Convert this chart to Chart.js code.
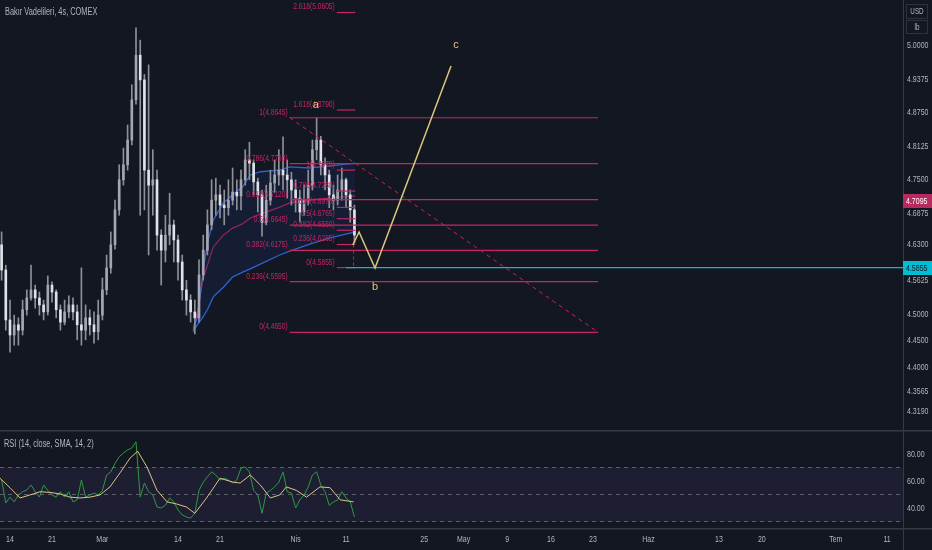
<!DOCTYPE html>
<html lang="tr">
<head>
<meta charset="utf-8">
<title>Bakır Vadelileri, 4s, COMEX</title>
<script src="https://cdn.jsdelivr.net/npm/chart.js@4.4.1/dist/chart.umd.min.js"></script>
<style>
  html, body { margin: 0; padding: 0; background: #131722; overflow: hidden; }
  .pane { position: absolute; left: 0; display: block; }
</style>
</head>
<body>
<canvas id="priceChart" class="pane" width="932" height="430" style="top:0"></canvas>
<canvas id="rsiChart" class="pane" width="932" height="120" style="top:430px"></canvas>
<script>
// x = işlem günü (0 = 14 Şubat Pazartesi), yarım günlük mumlar
const barDays = [-1,-0.5,0,0.5,1,1.5,2,2.5,3,3.5,4,4.5,5,5.5,6,6.5,7,7.5,8,8.5,
  9,9.5,10,10.5,11,11.5,12,12.5,13,13.5,14,14.5,15,15.5,16,16.5,17,17.5,18,18.5,
  19,19.5,20,20.5,21,21.5,22,22.5,23,23.5,24,24.5,25,25.5,26,26.5,27,27.5,28,28.5,
  29,29.5,30,30.5,31,31.5,32,32.5,33,33.5,34,34.5,35,35.5,36,36.5,37,37.5,38,38.5,
  39,39.5,40,40.5,41];

const opens = [4.628,4.581,4.488,4.460,4.479,4.469,4.507,4.529,4.544,4.529,
  4.516,4.503,4.553,4.540,4.507,4.484,4.503,4.516,4.503,4.479,
  4.469,4.492,4.479,4.466,4.497,4.544,4.585,4.628,4.693,4.749,
  4.777,4.823,4.898,4.981,4.935,4.767,4.739,4.749,4.646,4.618,
  4.646,4.665,4.637,4.596,4.544,4.525,4.503,4.492,4.572,4.618,
  4.665,4.711,4.721,4.702,4.697,4.711,4.726,4.719,4.749,4.786,
  4.780,4.745,4.721,4.670,4.711,4.743,4.758,4.767,4.758,4.749,
  4.730,4.715,4.689,4.711,4.739,4.805,4.823,4.777,4.758,4.721,
  4.711,4.730,4.749,4.721,4.693];

const highs = [4.652,4.590,4.525,4.497,4.492,4.525,4.544,4.590,4.553,4.540,
  4.525,4.570,4.559,4.544,4.516,4.525,4.533,4.529,4.516,4.585,
  4.516,4.507,4.503,4.525,4.566,4.609,4.652,4.711,4.777,4.808,
  4.851,4.926,5.032,5.009,4.945,4.963,4.805,4.767,4.656,4.683,
  4.724,4.674,4.646,4.609,4.562,4.535,4.525,4.600,4.646,4.693,
  4.749,4.752,4.739,4.730,4.749,4.771,4.749,4.767,4.805,4.819,
  4.786,4.752,4.730,4.739,4.767,4.786,4.805,4.829,4.786,4.763,
  4.749,4.730,4.739,4.767,4.823,4.8645,4.830,4.790,4.767,4.739,
  4.758,4.771,4.752,4.730,4.702];

const lows = [4.562,4.469,4.428,4.441,4.441,4.460,4.497,4.525,4.510,4.497,
  4.488,4.497,4.521,4.492,4.469,4.479,4.492,4.488,4.451,4.441,
  4.451,4.460,4.445,4.451,4.488,4.535,4.575,4.620,4.683,4.739,
  4.767,4.814,4.890,4.683,4.693,4.609,4.683,4.618,4.553,4.596,
  4.628,4.596,4.562,4.525,4.497,4.484,4.462,4.484,4.562,4.609,
  4.656,4.683,4.678,4.665,4.683,4.702,4.693,4.693,4.739,4.749,
  4.721,4.689,4.644,4.665,4.702,4.726,4.739,4.730,4.715,4.702,
  4.689,4.670,4.683,4.702,4.730,4.786,4.758,4.730,4.697,4.693,
  4.702,4.711,4.697,4.670,4.631];

const closes = [4.581,4.488,4.460,4.479,4.469,4.507,4.529,4.544,4.529,4.516,
  4.503,4.553,4.540,4.507,4.484,4.503,4.516,4.503,4.479,4.469,
  4.492,4.479,4.466,4.497,4.544,4.585,4.628,4.693,4.749,4.777,
  4.823,4.898,4.981,4.935,4.767,4.739,4.749,4.646,4.618,4.646,
  4.665,4.637,4.596,4.544,4.525,4.503,4.492,4.572,4.618,4.665,
  4.711,4.721,4.702,4.697,4.711,4.726,4.719,4.749,4.786,4.780,
  4.745,4.721,4.670,4.711,4.743,4.758,4.767,4.758,4.749,4.730,
  4.715,4.689,4.711,4.739,4.805,4.823,4.777,4.758,4.721,4.711,
  4.730,4.749,4.721,4.693,4.646];

// RSI (14) mumlarla aynı x değerlerinde
const rsiValues = [60.7,43.7,48,44.5,49.6,52,53.3,57,52,48,
  57,53,49.6,48,52,48,52,44.5,46,60.7,
  48,49.6,51,49.6,53,64.4,66.7,73,78,80.7,
  83,84.4,89,48,58.5,52,49.6,40.7,40,42,
  47.4,44.5,38.5,34.8,33.3,32.5,36,53,59,63,
  66.7,64.4,60.7,62,60.7,58.5,60.7,69.6,70.4,66.7,
  53,49.6,36,51,53,55.6,59,66.7,52,51,
  40,46,49.6,55.6,64.4,66.7,57,52,42,44.5,
  46,52,47.4,44.5,33.3];

// RSI'nin SMA(14) çizgisi
const smaDays = [-1.19,0,1.19,2.38,3.57,4.76,5.95,7.14,8.33,9.52,10.71,11.9,13.1,14.3,15.2,16.3,
  17.5,18.7,19.8,21.0,22.0,23.4,25.0,26.6,27.4,28.6,29.8,31.0,32.1,32.9,34.1,35.3,36.9,38.1,39.3,40.9];
const smaValues = [62,55,47.4,49.6,52,51.5,50.4,48,47.4,48,49.6,55.6,66,77,82,70.4,
  53,44.5,43,40.7,36,47.4,62,59,58.5,64.4,57,47.4,49.6,55.6,53,48,55.6,55,46,44.5];

// 16 Mart dibinden başlayan bant (üst, orta, alt)
const vwDays = [21.8,22.3,23.0,23.5,24.2,25.4,26.5,27.7,28.6,29.8,32.1,33.3,35.7,38.1,41.1];
const vwUpper = [4.469,4.492,4.581,4.631,4.674,4.706,4.721,4.736,4.758,4.764,4.767,4.773,4.771,4.775,4.780];
const vwMiddle = [4.473,4.501,4.566,4.590,4.624,4.646,4.659,4.667,4.678,4.685,4.698,4.706,4.711,4.715,4.719];
const vwLower = [4.466,4.479,4.494,4.507,4.531,4.549,4.568,4.577,4.583,4.592,4.609,4.616,4.629,4.641,4.652];

// Fibonacci düzeltmeleri
const fibALevels = ['1','0.786','0.618','0.5','0.382','0.236','0'];
const fibAValues = [4.8645,4.7790,4.7120,4.6645,4.6175,4.5595,4.4650];
const fibASpan = [33.3, 70.0];
const fibBLevels = ['2.618','1.618','1','0.786','0.618','0.5','0.382','0.236','0'];
const fibBValues = [5.0605,4.8790,4.7670,4.7280,4.6975,4.6765,4.6550,4.6285,4.5855];
const fibBSpan = [38.9, 41.1];

// Elliott a-b-c tahmini
const waveDays = [40.8, 41.55, 43.45, 52.5];
const wavePrices = [4.6276, 4.6518, 4.5848, 4.9609];
const waveNames = ['a', 'b', 'c'];
const waveLabelDays = [36.4, 43.45, 53.1];
const waveLabelPrices = [4.8645, 4.5848, 4.9609];

const supportPrice = 4.5855;
const supportFrom = 40.0;
const lastPrice = 4.7095;

const priceTicks = [5.0000,4.9375,4.8750,4.8125,4.7500,4.6875,4.6300,4.5625,4.5000,4.4500,4.4000,4.3565,4.3190];
const rsiTicks = [80, 60, 40];
const rsiLevels = [70, 50, 30];
const tickDays = [0,5,11,20,25,34,40,49.3,54,59.2,64.4,69.4,76,84.4,89.5,98.3,104.4];
const tickLabels = ['14','21','Mar','14','21','Nis','11','25','May','9','16','23','Haz','13','20','Tem','11'];

const FONT = "'Liberation Sans', 'Noto Sans', sans-serif";
const SQUEEZE = 0.74;   // TradingView'in dar yazı tipine yaklaşmak için
const TEXT = '#b2b5be';
const FIB = '#c8245f';
const LINE_GRAY = '#363a45';
const X_MIN = -1.19, X_MAX = 106.3;

function narrow(ctx, text, x, y, align) {
  ctx.save();
  ctx.translate(x, y);
  ctx.scale(SQUEEZE, 1);
  ctx.textAlign = align;
  ctx.fillText(text, 0, 0);
  ctx.restore();
}

function fixWidth(scale) {
  scale.width = 29;
  scale.paddingTop = 0;
  scale.paddingBottom = 0;
}

function drawRightTicks(ctx, y, values, digits) {
  ctx.fillStyle = TEXT;
  ctx.font = '9.5px ' + FONT;
  ctx.textBaseline = 'middle';
  values.forEach(v => narrow(ctx, v.toFixed(digits), 907, y.getPixelForValue(v) + 0.5, 'left'));
}

// --- fiyat paneli ---
const priceSets = [];

priceSets.push({
  type: 'line', order: 6, borderColor: '#2f62d4', borderWidth: 1.3, pointRadius: 0,
  data: vwDays.map((d, i) => ({ x: d, y: vwUpper[i] })),
  fill: { target: '+2' }, backgroundColor: 'rgba(41, 98, 255, 0.09)'
});
priceSets.push({
  type: 'line', order: 6, borderColor: '#a01f4d', borderWidth: 1.2, pointRadius: 0,
  data: vwDays.map((d, i) => ({ x: d, y: vwMiddle[i] }))
});
priceSets.push({
  type: 'line', order: 6, borderColor: '#2f62d4', borderWidth: 1.3, pointRadius: 0,
  data: vwDays.map((d, i) => ({ x: d, y: vwLower[i] }))
});

// fitiller ve gövdeler
priceSets.push({
  type: 'bar', order: 5, grouped: false, barThickness: 1,
  data: barDays.map((d, i) => ({ x: d, y: [lows[i], highs[i]] })),
  backgroundColor: '#8d9099'
});
priceSets.push({
  type: 'bar', order: 4, grouped: false, barThickness: 2, minBarLength: 1,
  data: barDays.map((d, i) => ({ x: d, y: [opens[i], closes[i]] })),
  backgroundColor: barDays.map((d, i) => closes[i] >= opens[i] ? '#a4a7b0' : '#e0e2e7')
});

fibAValues.forEach(v => {
  priceSets.push({
    type: 'line', order: 3, borderColor: FIB, borderWidth: 1.2, pointRadius: 0,
    data: [{ x: fibASpan[0], y: v }, { x: fibASpan[1], y: v }]
  });
});
fibBValues.forEach(v => {
  priceSets.push({
    type: 'line', order: 3, borderColor: FIB, borderWidth: 1.2, pointRadius: 0,
    data: [{ x: fibBSpan[0], y: v }, { x: fibBSpan[1], y: v }]
  });
});
// fib trend çizgileri (kesikli)
priceSets.push({
  type: 'line', order: 3, borderColor: FIB, borderWidth: 1, borderDash: [4, 4], pointRadius: 0,
  data: [{ x: fibASpan[0], y: fibAValues[0] }, { x: fibASpan[1], y: fibAValues[fibAValues.length - 1] }]
});
priceSets.push({
  type: 'line', order: 3, borderColor: FIB, borderWidth: 1, borderDash: [3, 3], pointRadius: 0,
  data: [{ x: 40.9, y: fibBValues[7] }, { x: 40.9, y: fibBValues[8] }]
});

priceSets.push({
  type: 'line', order: 2, borderColor: '#00bcd4', borderWidth: 1.3, pointRadius: 0,
  data: [{ x: supportFrom, y: supportPrice }, { x: X_MAX, y: supportPrice }]
});
priceSets.push({
  type: 'line', order: 1, borderColor: '#dcc67f', borderWidth: 1.5, pointRadius: 0,
  data: waveDays.map((d, i) => ({ x: d, y: wavePrices[i] }))
});

function axisTag(ctx, yPix, text, bg, fg) {
  ctx.fillStyle = bg;
  ctx.fillRect(903, Math.round(yPix) - 7, 29, 14);
  ctx.fillStyle = fg;
  ctx.textBaseline = 'middle';
  narrow(ctx, text, 906, yPix + 0.5, 'left');
}

const priceOverlay = {
  id: 'priceOverlay',
  afterDatasetsDraw(chart) {
    const { ctx, scales: { x, y } } = chart;
    ctx.save();
    ctx.font = '9px ' + FONT;
    ctx.fillStyle = FIB;
    ctx.textBaseline = 'bottom';
    fibALevels.forEach((lv, i) => {
      narrow(ctx, lv + '(' + fibAValues[i].toFixed(4) + ')', x.getPixelForValue(fibASpan[0]) - 2, y.getPixelForValue(fibAValues[i]) - 1, 'right');
    });
    fibBLevels.forEach((lv, i) => {
      narrow(ctx, lv + '(' + fibBValues[i].toFixed(4) + ')', x.getPixelForValue(fibBSpan[0]) - 2, y.getPixelForValue(fibBValues[i]) - 1, 'right');
    });

    ctx.font = '11px ' + FONT;
    ctx.fillStyle = '#dcc67f';
    ctx.textAlign = 'center';
    ctx.textBaseline = 'middle';
    const offs = [-13, 19, -21];
    waveNames.forEach((n, i) => {
      ctx.fillText(n, x.getPixelForValue(waveLabelDays[i]), y.getPixelForValue(waveLabelPrices[i]) + offs[i]);
    });
    ctx.restore();
  },
  afterDraw(chart) {
    const { ctx, scales: { y } } = chart;
    ctx.save();
    ctx.font = '10px ' + FONT;
    ctx.fillStyle = TEXT;
    ctx.textBaseline = 'middle';
    narrow(ctx, 'Bakır Vadelileri, 4s, COMEX', 5, 12, 'left');

    drawRightTicks(ctx, y, priceTicks, 4);

    // birim kutuları
    ctx.strokeStyle = '#2e323d';
    ctx.lineWidth = 1;
    ctx.strokeRect(906.5, 4.5, 21, 14);
    ctx.strokeRect(906.5, 20.5, 21, 13);
    ctx.font = '8.5px ' + FONT;
    ctx.fillStyle = TEXT;
    narrow(ctx, 'USD', 917, 12, 'center');
    narrow(ctx, 'lb', 917, 27.5, 'center');

    ctx.font = '9.5px ' + FONT;
    axisTag(ctx, y.getPixelForValue(lastPrice), lastPrice.toFixed(4), '#b8295d', '#ffffff');
    axisTag(ctx, y.getPixelForValue(supportPrice), supportPrice.toFixed(4), '#00bcd4', '#131722');
    ctx.restore();
  }
};

new Chart(document.getElementById('priceChart'), {
  type: 'bar',
  data: { datasets: priceSets },
  options: {
    responsive: false,
    animation: false,
    layout: { padding: 0 },
    plugins: { legend: { display: false }, tooltip: { enabled: false } },
    scales: {
      x: { type: 'linear', min: X_MIN, max: X_MAX, offset: false, display: false },
      y: {
        position: 'right', min: 4.2831, max: 5.0838,
        afterBuildTicks: s => { s.ticks = priceTicks.map(v => ({ value: v })); },
        afterFit: fixWidth,
        grid: { display: false, drawTicks: false },
        border: { color: LINE_GRAY },
        ticks: { display: false }
      }
    }
  },
  plugins: [priceOverlay]
});

// --- RSI paneli ---
const rsiPane = {
  id: 'rsiPane',
  beforeDatasetsDraw(chart) {
    const { ctx, chartArea: a, scales: { y } } = chart;
    ctx.save();
    const top = y.getPixelForValue(rsiLevels[0]);
    const bot = y.getPixelForValue(rsiLevels[2]);
    ctx.fillStyle = 'rgba(126, 87, 194, 0.11)';
    ctx.fillRect(a.left, top, a.right - a.left, bot - top);
    ctx.strokeStyle = '#5d606b';
    ctx.lineWidth = 1;
    ctx.setLineDash([4, 4]);
    rsiLevels.forEach(v => {
      const py = Math.round(y.getPixelForValue(v)) + 0.5;
      ctx.beginPath();
      ctx.moveTo(a.left, py);
      ctx.lineTo(a.right, py);
      ctx.stroke();
    });
    ctx.restore();
  },
  afterDraw(chart) {
    const { ctx, chartArea: a, scales: { x, y } } = chart;
    ctx.save();
    ctx.font = '10px ' + FONT;
    ctx.fillStyle = TEXT;
    ctx.textBaseline = 'middle';
    narrow(ctx, 'RSI (14, close, SMA, 14, 2)', 4, 14, 'left');

    drawRightTicks(ctx, y, rsiTicks, 2);

    ctx.font = '9.5px ' + FONT;
    ctx.fillStyle = TEXT;
    tickDays.forEach((d, i) => narrow(ctx, tickLabels[i], x.getPixelForValue(d), a.bottom + 10.5, 'center'));

    ctx.fillStyle = LINE_GRAY;
    ctx.fillRect(0, 0, 932, 1.5);
    ctx.fillRect(0, a.bottom - 1, 932, 1.5);
    ctx.fillRect(903, a.bottom, 1, 30);
    ctx.restore();
  }
};

new Chart(document.getElementById('rsiChart'), {
  type: 'line',
  data: {
    datasets: [
      { data: smaDays.map((d, i) => ({ x: d, y: smaValues[i] })), borderColor: '#dcc483', borderWidth: 1, pointRadius: 0 },
      { data: barDays.map((d, i) => ({ x: d, y: rsiValues[i] })), borderColor: '#2c9a40', borderWidth: 1, pointRadius: 0 }
    ]
  },
  options: {
    responsive: false,
    animation: false,
    layout: { padding: { top: 1 } },
    plugins: { legend: { display: false }, tooltip: { enabled: false } },
    scales: {
      x: {
        type: 'linear', min: X_MIN, max: X_MAX,
        afterBuildTicks: s => { s.ticks = tickDays.map(v => ({ value: v })); },
        afterFit: s => { s.height = 21; s.paddingLeft = 0; s.paddingRight = 0; },
        grid: { display: false, drawTicks: false },
        border: { display: false },
        ticks: { display: false }
      },
      y: {
        position: 'right', min: 24.4, max: 97,
        afterBuildTicks: s => { s.ticks = rsiTicks.map(v => ({ value: v })); },
        afterFit: fixWidth,
        grid: { display: false, drawTicks: false },
        border: { color: LINE_GRAY },
        ticks: { display: false }
      }
    }
  },
  plugins: [rsiPane]
});
</script>
</body>
</html>
